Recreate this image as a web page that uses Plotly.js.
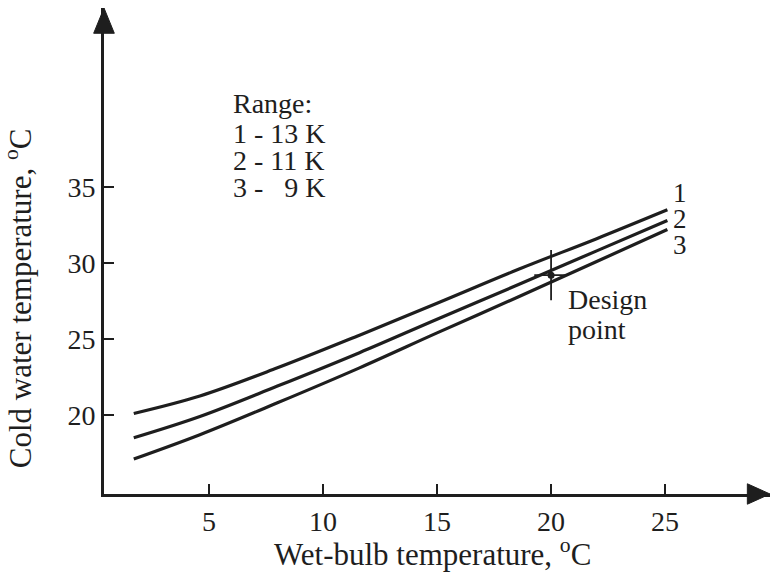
<!DOCTYPE html>
<html>
<head>
<meta charset="utf-8">
<script src="https://cdn.plot.ly/plotly-3.0.1.min.js"></script>
<style>html,body{margin:0;padding:0;background:#fff;}#chart{width:771px;height:578px;}</style>
</head>
<body>
<div id="chart"></div>
<script>
// Wet-bulb temperature (°C)
const wetBulb = [1.7, 4.6, 8, 11.6, 15, 18.6, 22, 25.1];
// Cold water temperature (°C) for each range
const curve1 = [20.1, 21.25, 23.1, 25.25, 27.35, 29.6, 31.6, 33.5]; // 13 K
const curve2 = [18.5, 19.9, 21.9, 24.1, 26.3, 28.6, 30.8, 32.8]; // 11 K
const curve3 = [17.1, 18.7, 20.8, 23.1, 25.4, 27.8, 30.1, 32.2]; // 9 K
const curveNames = ["1", "2", "3"];
const rangeLines = ["Range:", "1 - 13 K", "2 - 11 K", "3 -   9 K"];
const designX = [20];
const designY = [29.2];
const xTicks = [5, 10, 15, 20, 25];
const yTicks = [20, 25, 30, 35];
const xTitle = "Wet-bulb temperature, <sup>o</sup>C";
const yTitle = "Cold water temperature, <sup>o</sup>C";

const FONT = "Liberation Serif, Times New Roman, serif";
const INK = "#1e1e1e";

const lineStyle = {color: INK, width: 3.2, shape: "spline", smoothing: 1.0};
const series = [curve1, curve2, curve3];
const traces = series.map((ys, i) => ({
  x: wetBulb, y: ys, mode: "lines", line: lineStyle, name: curveNames[i],
  hoverinfo: "skip", showlegend: false
}));
traces.push({x: designX, y: designY, mode: "markers", showlegend: false, hoverinfo: "skip",
  marker: {symbol: "line-ns", size: 36, line: {color: INK, width: 1.8}}});
traces.push({x: designX, y: designY, mode: "markers", showlegend: false, hoverinfo: "skip",
  marker: {symbol: "line-ew", size: 24, line: {color: INK, width: 1.8}}});
traces.push({x: designX, y: designY, mode: "markers", showlegend: false, hoverinfo: "skip",
  marker: {symbol: "circle", size: 7, color: INK}});

const annotations = [];
// Range legend block
const rangeY = [40.5, 38.5, 36.75, 35.0];
rangeLines.forEach((t, i) => {
  const parts = t.split(/( {2,})/);
  const txt = parts.map(p => /^ {2,}$/.test(p) ? " " + "\u2002".repeat(p.length - 2) : p).join("");
  annotations.push({
    x: 6.0, y: rangeY[i], xref: "x", yref: "y", text: txt,
    showarrow: false, xanchor: "left", yanchor: "middle", align: "left", borderpad: 0,
    font: {family: FONT, size: 28, color: INK}
  });
});
// Curve labels at end
const labelY = [34.6, 32.9, 31.2];
curveNames.forEach((t, i) => annotations.push({
  x: 25.3, y: labelY[i], xref: "x", yref: "y", text: t, showarrow: false,
  xanchor: "left", yanchor: "middle", borderpad: 0, font: {family: FONT, size: 27, color: INK}
}));
annotations.push({x: 20.7, y: 27.6, xref: "x", yref: "y", text: "Design", showarrow: false,
  xanchor: "left", yanchor: "middle", borderpad: 0, font: {family: FONT, size: 28, color: INK}});
annotations.push({x: 20.7, y: 25.6, xref: "x", yref: "y", text: "point", showarrow: false,
  xanchor: "left", yanchor: "middle", borderpad: 0, font: {family: FONT, size: 28, color: INK}});
// Axis titles
annotations.push({x: 0.4925, y: -0.121, xref: "paper", yref: "paper", text: xTitle, showarrow: false,
  xanchor: "center", yanchor: "middle", font: {family: FONT, size: 31, color: INK}});
annotations.push({x: -0.129, y: 0.403, xref: "paper", yref: "paper", text: yTitle, showarrow: false,
  textangle: -90, xanchor: "center", yanchor: "middle", font: {family: FONT, size: 31, color: INK}});

const shapes = [
  // y-axis arrowhead
  {type: "path", xref: "paper", yref: "paper", path: "M -0.0155 0.948 L 0 1 L 0.0155 0.948 Z",
   fillcolor: INK, line: {color: INK, width: 1}},
  // x-axis arrowhead
  {type: "path", xref: "paper", yref: "paper", path: "M 0.966 0.021 L 1 0 L 0.966 -0.021 Z",
   fillcolor: INK, line: {color: INK, width: 1}}
];

const layout = {
  width: 771, height: 578,
  margin: {l: 104, r: 1, t: 8, b: 84},
  paper_bgcolor: "#fff", plot_bgcolor: "#fff",
  showlegend: false,
  xaxis: {
    range: [0.395, 29.6], showgrid: false, zeroline: false,
    showline: true, linecolor: INK, linewidth: 3,
    ticks: "inside", ticklen: 10, tickwidth: 2.5, tickcolor: INK,
    tickvals: xTicks, ticktext: xTicks.map(String),
    tickfont: {family: FONT, size: 28, color: INK}
  },
  yaxis: {
    range: [14.8, 46.78], showgrid: false, zeroline: false,
    showline: true, linecolor: INK, linewidth: 3,
    ticks: "inside", ticklen: 10, tickwidth: 2.5, tickcolor: INK,
    tickvals: yTicks, ticktext: yTicks.map(String),
    tickfont: {family: FONT, size: 28, color: INK}
  },
  annotations: annotations,
  shapes: shapes
};

Plotly.newPlot("chart", traces, layout, {staticPlot: true, displayModeBar: false});
</script>
</body>
</html>
